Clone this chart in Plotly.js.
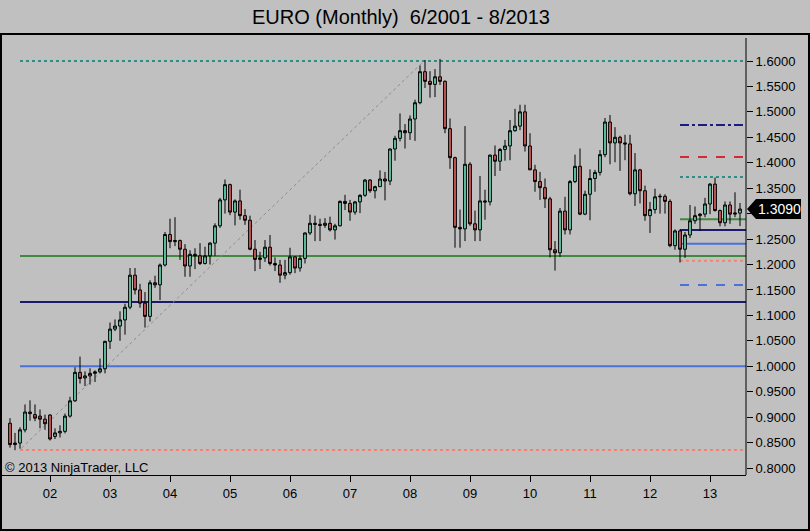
<!DOCTYPE html>
<html>
<head>
<meta charset="utf-8">
<script src="https://cdn.plot.ly/plotly-3.0.1.min.js"></script>
<style>
html,body{margin:0;padding:0;background:#c0c0c0;}
#chart{width:810px;height:531px;}
</style>
</head>
<body>
<div id="chart"></div>
<script>
// Monthly bars, May 2001 .. Jul 2013 (index 0 .. 146)
const opens = [
0.8880,0.8460,0.8490,0.8750,0.9100,0.9050,0.9020,0.8960,
0.9040,0.8620,0.8690,0.8720,0.9020,0.9320,0.9880,0.9770,0.9810,0.9860,0.9890,0.9950,
1.0490,1.0730,1.0790,1.0910,1.1160,1.1790,1.1500,1.1240,1.0980,1.1640,1.1600,1.1990,
1.2590,1.2450,1.2470,1.2300,1.1970,1.2200,1.2170,1.2020,1.2170,1.2420,1.2760,1.3270,
1.3570,1.3030,1.3250,1.2960,1.2870,1.2300,1.2100,1.2130,1.2340,1.2020,1.1990,1.1790,
1.1840,1.2150,1.1930,1.2120,1.2620,1.2810,1.2790,1.2770,1.2810,1.2680,1.2760,1.3240,
1.3200,1.3030,1.3230,1.3360,1.3660,1.3450,1.3530,1.3680,1.3640,1.4270,1.4480,1.4630,
1.4590,1.4860,1.5180,1.5790,1.5600,1.5540,1.5690,1.5600,1.4670,1.4100,1.2730,1.2700,
1.3970,1.2800,1.2680,1.3250,1.3230,1.4150,1.4030,1.4260,1.4330,1.4630,1.4720,1.5000,
1.4330,1.3860,1.3630,1.3510,1.3290,1.2290,1.2230,1.3050,1.2680,1.3630,1.3930,1.2990,
1.3380,1.3690,1.3810,1.4160,1.4800,1.4390,1.4500,1.4390,1.4370,1.3390,1.3860,1.3450,
1.2960,1.3080,1.3330,1.3340,1.3240,1.2370,1.2660,1.2300,1.2580,1.2860,1.2960,1.2990,
1.3190,1.3580,1.3060,1.2820,1.3170,1.2990,1.3010];
const highs = [
0.8980,0.8690,0.8800,0.9250,0.9330,0.9250,0.9150,0.9050,
0.9060,0.8780,0.8840,0.9070,0.9400,0.9980,1.0190,0.9900,0.9960,0.9920,1.0150,1.0500,
1.0860,1.0920,1.1080,1.1230,1.1930,1.1930,1.1620,1.1460,1.1690,1.1780,1.2020,1.2640,
1.2900,1.2930,1.2490,1.2400,1.2280,1.2320,1.2420,1.2350,1.2440,1.2810,1.3310,1.3670,
1.3590,1.3280,1.3470,1.3090,1.2960,1.2480,1.2250,1.2480,1.2580,1.2140,1.2090,1.2090,
1.2330,1.2160,1.2180,1.2630,1.2980,1.2960,1.2900,1.2910,1.2940,1.2800,1.3260,1.3370,
1.3270,1.3250,1.3380,1.3680,1.3680,1.3550,1.3850,1.3820,1.4280,1.4530,1.4970,1.4760,
1.4930,1.5240,1.5910,1.6020,1.5800,1.5840,1.6040,1.5620,1.4870,1.4120,1.3080,1.4720,
1.4010,1.3060,1.3740,1.3470,1.4160,1.4340,1.4290,1.4450,1.4840,1.5060,1.5140,1.5140,
1.4580,1.3960,1.3820,1.3690,1.3330,1.2460,1.3110,1.3330,1.3660,1.4160,1.4280,1.3450,
1.3870,1.3860,1.4250,1.4880,1.4940,1.4700,1.4530,1.4550,1.4550,1.4190,1.3880,1.3550,
1.3230,1.3490,1.3390,1.3380,1.3280,1.2690,1.2690,1.2640,1.3170,1.3140,1.3010,1.3310,
1.3600,1.3710,1.3080,1.3240,1.3240,1.3420,1.3210];
const lows = [
0.8400,0.8350,0.8380,0.8700,0.8930,0.8920,0.8780,0.8750,
0.8540,0.8570,0.8600,0.8680,0.8990,0.9300,0.9660,0.9610,0.9640,0.9690,0.9860,0.9860,
1.0340,1.0690,1.0500,1.0620,1.1120,1.1410,1.1150,1.0760,1.0880,1.1540,1.1300,1.1960,
1.2320,1.2360,1.2090,1.1760,1.1760,1.1910,1.1990,1.2000,1.2000,1.2170,1.2720,1.3000,
1.2970,1.2770,1.2880,1.2780,1.2280,1.1870,1.1910,1.2050,1.1980,1.1870,1.1640,1.1710,
1.1800,1.1830,1.1860,1.2020,1.2580,1.2460,1.2460,1.2720,1.2650,1.2490,1.2750,1.3070,
1.2860,1.2980,1.3010,1.3330,1.3410,1.3300,1.3530,1.3260,1.3560,1.4040,1.4420,1.4280,
1.4450,1.4430,1.5150,1.5470,1.5280,1.5290,1.5530,1.4580,1.3880,1.2330,1.2330,1.2460,
1.2760,1.2460,1.2460,1.2880,1.3160,1.3740,1.3840,1.4040,1.4050,1.4610,1.4640,1.4220,
1.3860,1.3430,1.3270,1.3110,1.2140,1.1880,1.2150,1.2590,1.2590,1.3600,1.2970,1.2970,
1.2870,1.3430,1.3750,1.4110,1.3970,1.4010,1.3840,1.4050,1.3360,1.3150,1.3200,1.2860,
1.2620,1.3000,1.3000,1.3000,1.2340,1.2290,1.2040,1.2130,1.2520,1.2800,1.2660,1.2930,
1.2990,1.3040,1.2750,1.2750,1.2800,1.2930,1.2755];
const closes = [
0.8460,0.8490,0.8750,0.9100,0.9070,0.8980,0.8960,0.8870,
0.8570,0.8690,0.8720,0.9020,0.9320,0.9880,0.9760,0.9810,0.9860,0.9890,0.9950,1.0490,
1.0730,1.0790,1.0910,1.1160,1.1790,1.1500,1.1240,1.0980,1.1640,1.1600,1.1990,1.2590,
1.2450,1.2470,1.2300,1.1970,1.2200,1.2170,1.2020,1.2170,1.2420,1.2760,1.3270,1.3570,
1.3030,1.3250,1.2960,1.2870,1.2300,1.2100,1.2130,1.2340,1.2020,1.1990,1.1790,1.1840,
1.2150,1.1930,1.2120,1.2620,1.2810,1.2790,1.2770,1.2810,1.2680,1.2760,1.3240,1.3200,
1.3030,1.3230,1.3360,1.3660,1.3450,1.3530,1.3680,1.3640,1.4270,1.4480,1.4630,1.4590,
1.4860,1.5180,1.5790,1.5600,1.5540,1.5690,1.5600,1.4670,1.4100,1.2730,1.2700,1.3970,
1.2800,1.2680,1.3250,1.3230,1.4150,1.4030,1.4260,1.4330,1.4630,1.4720,1.5000,1.4330,
1.3860,1.3630,1.3510,1.3290,1.2290,1.2230,1.3050,1.2680,1.3630,1.3930,1.2990,1.3380,
1.3690,1.3810,1.4160,1.4800,1.4390,1.4500,1.4390,1.4370,1.3390,1.3860,1.3450,1.2960,
1.3080,1.3330,1.3340,1.3240,1.2370,1.2660,1.2300,1.2580,1.2860,1.2960,1.2990,1.3190,
1.3580,1.3060,1.2820,1.3170,1.2990,1.3010,1.3090];

// Year ticks (bar index of each January) and labels
const tickIdx = [8,20,32,44,56,68,80,92,104,116,128,140];
const tickLabels = ['02','03','04','05','06','07','08','09','10','11','12','13'];

// Price ticks
const priceTicks = [0.80,0.85,0.90,0.95,1.00,1.05,1.10,1.15,1.20,1.25,1.30,1.35,1.40,1.45,1.50,1.55,1.60];

// Drawn levels: long lines (from the 2001 low) and short lines (from the 2012 low)
const longLevels = [1.6000, 1.2167, 1.1263, 1.0000, 0.8354];
const shortLevels = [1.4742, 1.4113, 1.3720, 1.2889, 1.2678, 1.2409, 1.2075, 1.1597];
const longStart = 2, shortStart = 134;
// Trend line anchors (bar index, price)
const trendFrom = [2.3, 0.839];
const trendTo = [82.6, 1.598];
const lastPrice = 1.3090;

const longStyles = [
  {color:'#2e8e86', dash:'dot'},
  {color:'#3f8a3f', dash:'solid'},
  {color:'#1b1b6b', dash:'solid'},
  {color:'#4a72d8', dash:'solid'},
  {color:'#f08474', dash:'dot'}
];
const shortStyles = [
  {color:'#1b1b80', dash:'dashdot'},
  {color:'#d22a30', dash:'dash'},
  {color:'#2e8e86', dash:'dot'},
  {color:'#3f8a3f', dash:'solid'},
  {color:'#1b1b6b', dash:'solid'},
  {color:'#4a72d8', dash:'solid'},
  {color:'#f08474', dash:'dot'},
  {color:'#4a72d8', dash:'dash'}
];

const idx = opens.map((_, i) => i);
const xMax = 147.2, xMin = -1.6;
const yMin = 0.78624, yMax = 1.65307;

const shapes = [];
longLevels.forEach((p, k) => shapes.push({type:'line', xref:'x', yref:'y', x0:longStart, x1:xMax, y0:p, y1:p,
  line:{color:longStyles[k].color, width:2, dash:longStyles[k].dash}, layer:'below'}));
shortLevels.forEach((p, k) => shapes.push({type:'line', xref:'x', yref:'y', x0:shortStart, x1:xMax, y0:p, y1:p,
  line:{color:shortStyles[k].color, width:2, dash:shortStyles[k].dash}, layer:'below'}));
shapes.push({type:'line', xref:'x', yref:'y', x0:trendFrom[0], y0:trendFrom[1], x1:trendTo[0], y1:trendTo[1],
  line:{color:'#8c8c8c', width:1, dash:'dot'}, layer:'below'});

// frame lines (paper coords)
const pw = 744, ph = 441;
const px = v => (v - 2) / pw;
const py = v => (475 - v) / ph;
const frame = {color:'#000', width:2};
shapes.push({type:'line', xref:'paper', yref:'paper', x0:px(0), x1:px(810), y0:py(34), y1:py(34), line:frame});
shapes.push({type:'line', xref:'paper', yref:'paper', x0:px(1), x1:px(1), y0:py(34), y1:py(531), line:frame});
shapes.push({type:'line', xref:'paper', yref:'paper', x0:px(809), x1:px(809), y0:py(34), y1:py(531), line:frame});
shapes.push({type:'line', xref:'paper', yref:'paper', x0:px(0), x1:px(810), y0:py(530), y1:py(530), line:frame});
// price axis line (starts a little below the top border)
shapes.push({type:'line', xref:'paper', yref:'paper', x0:1, x1:1, y0:py(38), y1:0, line:{color:'#000', width:1}});

// price marker
const h = 10 * 0.8 / 407;
shapes.push({type:'path', xref:'paper', yref:'y', layer:'above',
  path:`M ${px(747)},${lastPrice} L ${px(756)},${lastPrice+h} L ${px(801)},${lastPrice+h} L ${px(801)},${lastPrice-h} L ${px(756)},${lastPrice-h} Z`,
  fillcolor:'#000', line:{width:0}});

const font = 'Liberation Sans, Arial, sans-serif';

const trace = {
  type:'candlestick', x:idx, open:opens, high:highs, low:lows, close:closes,
  increasing:{line:{color:'#000', width:1}, fillcolor:'#66cdaa'},
  decreasing:{line:{color:'#000', width:1}, fillcolor:'#cd5c5c'},
  whiskerwidth:0, hoverinfo:'skip', showlegend:false
};

// 1.3000 label sits under the price marker, so it is left blank
const priceLabels = priceTicks.map(v => Math.abs(v - 1.30) < 1e-9 ? '' : v.toFixed(4));

const layout = {
  width:810, height:531,
  margin:{l:2, r:64, t:34, b:56, pad:0},
  paper_bgcolor:'#c0c0c0', plot_bgcolor:'#c0c0c0',
  font:{family:font, size:13, color:'#000'},
  title:{text:'EURO (Monthly)\u00a0 6/2001 - 8/2013', font:{family:font, size:20, color:'#000'},
    xref:'container', yref:'container', x:401/810, xanchor:'center', y:1-17/531, yanchor:'middle'},
  showlegend:false,
  boxgap:0.2,
  xaxis:{range:[xMin, xMax], showgrid:false, zeroline:false, showline:true, linecolor:'#000', linewidth:1,
    tickmode:'array', tickvals:tickIdx, ticktext:tickLabels, ticks:'outside', ticklen:6, tickcolor:'#000',
    tickfont:{family:font, size:13, color:'#000'}, rangeslider:{visible:false}, fixedrange:true},
  yaxis:{range:[yMin, yMax], side:'right', showgrid:false, zeroline:false, showline:false,
    tickmode:'array', tickvals:priceTicks, ticktext:priceLabels, ticks:'outside', ticklen:6, tickcolor:'#000',
    tickfont:{family:font, size:13, color:'#000'}, fixedrange:true},
  shapes:shapes,
  annotations:[
    {xref:'paper', yref:'paper', x:px(3), y:py(467), xanchor:'left', yanchor:'middle', showarrow:false,
     text:'© 2013 NinjaTrader, LLC', font:{family:font, size:13, color:'#000'}},
    {xref:'paper', yref:'y', x:px(779), y:lastPrice, xanchor:'center', yanchor:'middle', showarrow:false,
     text:lastPrice.toFixed(4), font:{family:font, size:14, color:'#fff'}}
  ]
};

Plotly.newPlot('chart', [trace], layout, {displayModeBar:false, staticPlot:true});
</script>
</body>
</html>
